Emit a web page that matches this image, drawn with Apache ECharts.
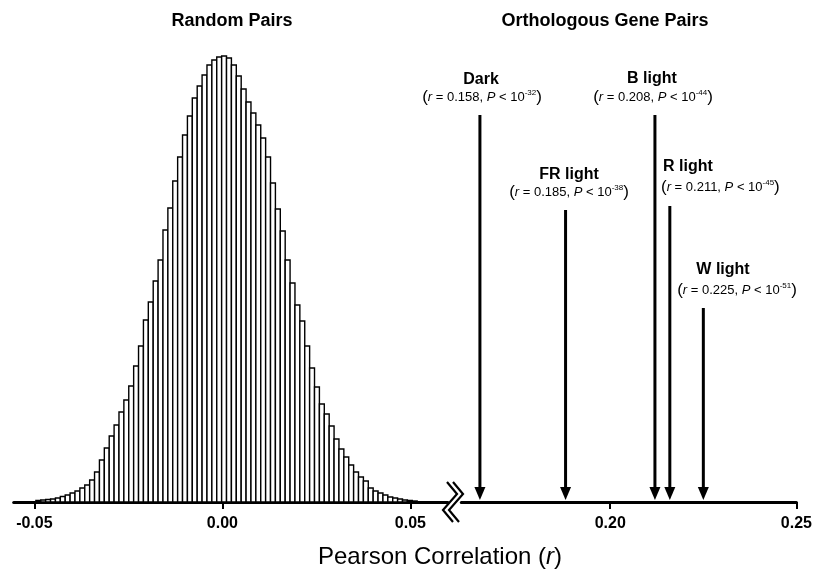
<!DOCTYPE html>
<html>
<head>
<meta charset="utf-8">
<script src="https://cdn.jsdelivr.net/npm/echarts@6/dist/echarts.min.js"></script>
<style>
  html, body { margin: 0; padding: 0; background: #fff; }
  #chart { width: 815px; height: 578px; }
</style>
</head>
<body>
<div id="chart"></div>
<script>
// histogram of random pairs (bin start, bin width, bar heights)
const binStart = -0.0496
const binWidth = 0.0013
const randomFreq = [
  0.15, 0.2, 0.25, 0.3, 0.4, 0.55, 0.7, 0.9, 1.1, 1.4,
  1.7, 2.2, 3.0, 4.2, 5.4, 6.6, 7.7, 9.0, 10.2, 11.6,
  13.6, 15.6, 18.2, 20.0, 22.1, 24.2, 27.2, 29.4, 32.1, 34.5,
  36.7, 38.6, 40.4, 41.6, 42.7, 43.7, 44.2, 44.5, 44.6, 44.4,
  43.7, 42.6, 41.3, 40.0, 38.9, 37.7, 36.4, 34.5, 31.9, 29.3,
  27.1, 24.2, 21.9, 19.7, 18.1, 15.6, 13.4, 11.5, 9.8, 8.8,
  7.6, 6.3, 5.3, 4.5, 3.7, 3.0, 2.5, 2.1, 1.4, 1.1,
  0.9, 0.7, 0.5, 0.4, 0.3, 0.2, 0.15, 0.1
]

// orthologous gene pairs
const pairNames = ['Dark', 'FR light', 'B light', 'R light', 'W light']
const pairR = ['0.158', '0.185', '0.208', '0.211', '0.225']
const pairExp = ['-32', '-38', '-44', '-45', '-51']
const arrowX = [0.165, 0.188, 0.212, 0.216, 0.225]   // where the arrows sit on the axis
const arrowTop = [38.7, 29.2, 38.7, 29.6, 19.4]

const leftTicks = [-0.05, 0, 0.05]
const rightTicks = [0.20, 0.25]

// label layout: [title x, title y, sub x, sub y, align]
const labelPos = [
  [481, 80, 482, 97, 'center'],
  [569, 175, 569, 192, 'center'],
  [652, 79, 653, 97, 'center'],
  [663, 167, 661, 187, 'left'],
  [723, 270, 737, 290, 'center']
]

const FONT = 'Liberation Sans, Arial, sans-serif'

const histData = randomFreq.map((h, i) => [binStart + i * binWidth, binStart + (i + 1) * binWidth, h])
const arrowData = arrowX.map((x, i) => [x, arrowTop[i]])

const chart = echarts.init(document.getElementById('chart'))

const xAxisBase = (min, max, ticks, grid) => ({
  type: 'value',
  gridIndex: grid,
  min: min,
  max: max,
  axisLine: { show: true, onZero: false, lineStyle: { color: '#000', width: 3 } },
  axisTick: { show: true, customValues: ticks, length: 7, lineStyle: { color: '#000', width: 2 } },
  axisLabel: {
    customValues: ticks,
    formatter: v => v.toFixed(2),
    color: '#000',
    fontWeight: 'bold',
    fontSize: 16,
    fontFamily: FONT,
    margin: 14
  },
  splitLine: { show: false }
})

const textEls = []
pairNames.forEach((name, i) => {
  const p = labelPos[i]
  textEls.push({
    type: 'text', x: p[0], y: p[1],
    style: { text: name, font: 'bold 16px ' + FONT, fill: '#000', align: p[4], verticalAlign: 'middle' }
  })
  textEls.push({
    type: 'text', x: p[2], y: p[3],
    style: {
      text: '{p|(}{i|r} = ' + pairR[i] + ', {i|P} < 10{s|' + pairExp[i] + '}{p|)}',
      fontFamily: FONT, fontSize: 13, fill: '#000',
      align: p[4], verticalAlign: 'middle',
      rich: {
        p: { fontSize: 17, fontFamily: FONT },
        i: { fontStyle: 'italic', fontSize: 13, fontFamily: FONT },
        s: { fontSize: 8, fontFamily: FONT, verticalAlign: 'top' }
      }
    }
  })
})

chart.setOption({
  animation: false,
  backgroundColor: '#fff',
  grid: [
    { left: 13.7, top: 52, width: 434.3, height: 450 },
    { left: 461.3, top: 52, width: 338.4, height: 450 }
  ],
  xAxis: [
    xAxisBase(-0.0555, 0.06, leftTicks, 0),
    xAxisBase(0.16, 0.25, rightTicks, 1)
  ],
  yAxis: [
    { type: 'value', gridIndex: 0, min: 0, max: 45, show: false },
    { type: 'value', gridIndex: 1, min: 0, max: 45, show: false }
  ],
  series: [
    {
      type: 'custom',
      xAxisIndex: 0, yAxisIndex: 0,
      clip: false,
      encode: { x: [0, 1], y: 2 },
      data: histData,
      renderItem: (params, api) => {
        const p0 = api.coord([api.value(0), 0])
        const p1 = api.coord([api.value(1), api.value(2)])
        return {
          type: 'rect',
          shape: { x: p0[0], y: p1[1], width: p1[0] - p0[0], height: p0[1] - p1[1] },
          style: { fill: '#fff', stroke: '#000', lineWidth: 1.4 }
        }
      }
    },
    {
      type: 'custom',
      xAxisIndex: 1, yAxisIndex: 1,
      clip: false,
      encode: { x: 0, y: 1 },
      data: arrowData,
      renderItem: (params, api) => {
        const top = api.coord([api.value(0), api.value(1)])
        const base = api.coord([api.value(0), 0])
        const tipY = base[1] - 2
        const headH = 13, headW = 5.5
        return {
          type: 'group',
          children: [
            { type: 'line', shape: { x1: top[0], y1: top[1], x2: top[0], y2: tipY - headH + 1 }, style: { stroke: '#000', lineWidth: 3 } },
            { type: 'polygon', shape: { points: [[top[0] - headW, tipY - headH], [top[0] + headW, tipY - headH], [top[0], tipY]] }, style: { fill: '#000' } }
          ]
        }
      }
    }
  ],
  graphic: [
    // axis break mark
    { type: 'polyline', shape: { points: [[447, 482], [457, 494], [443, 510], [453, 522]] }, style: { stroke: '#000', lineWidth: 2.2, fill: null } },
    { type: 'polyline', shape: { points: [[453, 482], [463, 494], [449, 510], [459, 522]] }, style: { stroke: '#000', lineWidth: 2.2, fill: null } },
    // panel titles
    { type: 'text', x: 232, y: 21, style: { text: 'Random Pairs', font: 'bold 18px ' + FONT, fill: '#000', align: 'center', verticalAlign: 'middle' } },
    { type: 'text', x: 605, y: 21, style: { text: 'Orthologous Gene Pairs', font: 'bold 18px ' + FONT, fill: '#000', align: 'center', verticalAlign: 'middle' } },
    // axis name
    {
      type: 'text', x: 440, y: 557,
      style: {
        text: 'Pearson Correlation ({i|r})',
        fontFamily: FONT, fontSize: 24, fill: '#000', align: 'center', verticalAlign: 'middle',
        rich: { i: { fontStyle: 'italic', fontSize: 24, fontFamily: FONT } }
      }
    }
  ].concat(textEls)
})
</script>
</body>
</html>
